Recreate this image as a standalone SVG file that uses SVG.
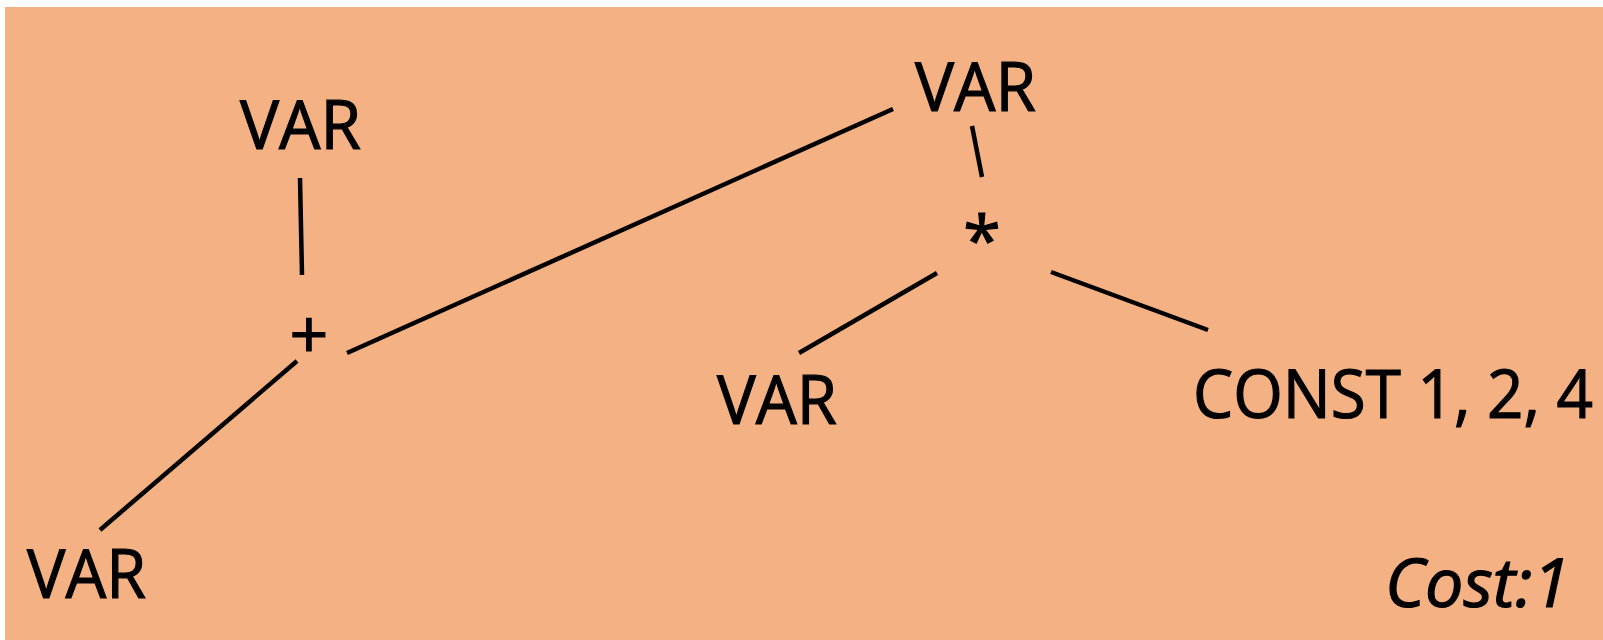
<svg xmlns="http://www.w3.org/2000/svg" width="1603" height="640" viewBox="0 0 1603 640">
<style>
.bg{fill:#F4B183}
.lbl{font-family:"Open Sans","Noto Sans",sans-serif;font-size:68px;fill:#000;stroke:#000;stroke-width:1.2}
.cost{font-family:"Open Sans","Noto Sans",sans-serif;font-size:68px;font-style:italic;fill:#000;stroke:#000;stroke-width:1.2}
.edge{stroke:#000;stroke-width:4.5;fill:none}
</style>
<rect class="bg" x="5" y="7" width="1598" height="633"/>
<g id="connectors">
<line class="edge" x1="300" y1="178" x2="302" y2="275"/>
<line class="edge" x1="347" y1="353" x2="893" y2="109"/>
<line class="edge" x1="297" y1="361" x2="100" y2="530"/>
<line class="edge" x1="972" y1="126" x2="982" y2="177"/>
<line class="edge" x1="937" y1="273" x2="799" y2="353"/>
<line class="edge" x1="1051" y1="272" x2="1208" y2="330"/>
</g>
<g id="node-var-top-left"><text class="lbl" x="240" y="149" textLength="121" lengthAdjust="spacingAndGlyphs">VAR</text></g>
<g id="node-var-root"><text class="lbl" x="915" y="111" textLength="121" lengthAdjust="spacingAndGlyphs">VAR</text></g>
<g id="node-plus"><text class="lbl" x="309" y="359" text-anchor="middle" font-size="70">+</text></g>
<g id="node-times"><text class="lbl" x="982" y="265" text-anchor="middle" font-size="92">*</text></g>
<g id="node-var-mid"><text class="lbl" x="717" y="424" textLength="120" lengthAdjust="spacingAndGlyphs">VAR</text></g>
<g id="node-const"><text class="lbl" x="1193" y="418" textLength="400" lengthAdjust="spacingAndGlyphs">CONST 1, 2, 4</text></g>
<g id="node-var-bottom"><text class="lbl" x="27" y="598" textLength="119" lengthAdjust="spacingAndGlyphs">VAR</text></g>
<text class="cost" x="1385" y="607" textLength="185" lengthAdjust="spacingAndGlyphs">Cost:1</text>
</svg>
